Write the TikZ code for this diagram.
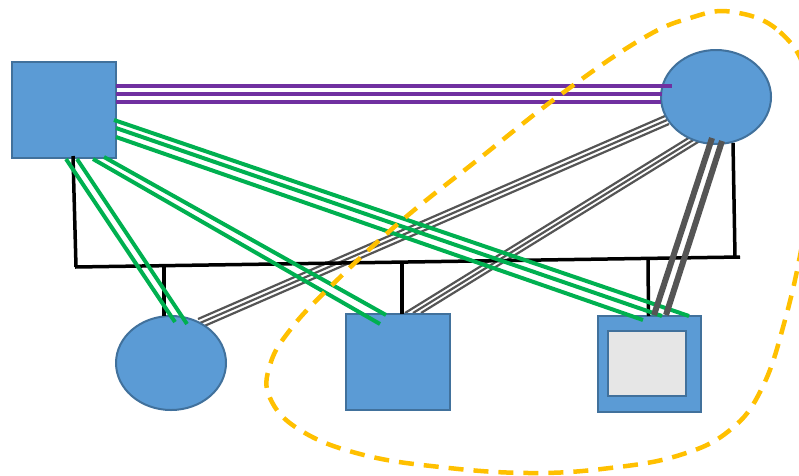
\documentclass[tikz,border=0pt]{standalone}
\usetikzlibrary{shapes.geometric,calc}
\definecolor{bluefill}{HTML}{5B9BD5}
\definecolor{blueline}{HTML}{41719C}
\definecolor{linkpurple}{HTML}{7030A0}
\definecolor{linkgreen}{HTML}{00B050}
\definecolor{linkgray}{HTML}{555555}
\definecolor{zoneyellow}{HTML}{FFC000}
\definecolor{innergray}{HTML}{E6E6E6}
\pgfdeclarelayer{bg}
\pgfsetlayers{bg,main}
\tikzset{
  sqbox/.style={rectangle, fill=bluefill, draw=blueline, line width=2pt, inner sep=0pt},
  ovbox/.style={ellipse, fill=bluefill, draw=blueline, line width=2pt, inner sep=0pt, minimum width=110pt, minimum height=94pt},
  purplelink/.style={draw=linkpurple, line width=4pt},
  greenlink/.style={draw=linkgreen, line width=4pt},
  thingray/.style={draw=linkgray, line width=2.2pt},
  thickgray/.style={draw=linkgray, line width=6pt},
  busline/.style={draw=black, line width=3.5pt},
  zone/.style={draw=zoneyellow, line width=4.5pt, dash pattern=on 15pt off 10pt}
}
\begin{document}
\begin{tikzpicture}[x=1pt,y=-1pt]
\useasboundingbox (0,0) rectangle (799,475);
% nodes
\node[sqbox, minimum width=104pt, minimum height=96pt] (A) at (64,110) {};
\node[ovbox] (B) at (716,97) {};
\node[ovbox] (C) at (171,363) {};
\node[sqbox, minimum width=104pt, minimum height=96pt] (D) at (398,362) {};
\node[sqbox, minimum width=103pt, minimum height=96pt] (E) at (649.5,364) {};
\node[rectangle, fill=innergray, draw=blueline, line width=2pt, inner sep=0pt, minimum width=78pt, minimum height=65pt] (Ein) at (647,363.5) {};
% bus coordinates
\coordinate (bl) at (75,267);
\coordinate (br) at (740,257);
\coordinate (jA) at (76,267);
\coordinate (jB) at (735,257.1);
\coordinate (jC) at (164,266.5);
\coordinate (jD) at (402,263);
\coordinate (jE) at (648,259);
% thin gray links (under the shapes)
\begin{pgfonlayer}{bg}
\draw[thingray] ($(B)+(-51,19)$) -- ($(C)+(27,-44)$);
\draw[thingray] ($(B)+(-49,23)$) -- ($(C)+(29,-40)$);
\draw[thingray] ($(B)+(-47,27)$) -- ($(C)+(31,-36)$);
\draw[thingray] ($(B)+(-27.5,41)$) -- ($(D)+(7,-49)$);
\draw[thingray] ($(B)+(-19.5,41)$) -- ($(D)+(15,-49)$);
\draw[thingray] ($(B)+(-11.5,41)$) -- ($(D)+(23,-49)$);
\end{pgfonlayer}
% black bus
\draw[busline] (bl) -- (br);
\draw[busline] ($(A)+(9,46)$) -- (jA);
\draw[busline] ($(B)+(17,46)$) -- (jB);
\draw[busline] ($(C)+(-7,-47)$) -- (jC);
\draw[busline] ($(D)+(4,-48)$) -- (jD);
\draw[busline] ($(E)+(-1,-48)$) -- (jE);
% green links
\draw[greenlink] ($(A)+(50,10)$) -- ($(E)+(39.5,-48)$);
\draw[greenlink] ($(A)+(52,18)$) -- ($(E)+(12.5,-48)$);
\draw[greenlink] ($(A)+(52,27)$) -- ($(E)+(-6.5,-44)$);
\draw[greenlink] ($(A)+(2,49)$) -- ($(C)+(4,-41)$);
\draw[greenlink] ($(A)+(13,49)$) -- ($(C)+(16,-39)$);
\draw[greenlink] ($(A)+(29,49)$) -- ($(D)+(-18,-38)$);
\draw[greenlink] ($(A)+(40,47)$) -- ($(D)+(-12,-47)$);
% purple links
\draw[purplelink] ($(A)+(52,-24)$) -- ($(B)+(-44,-11)$);
\draw[purplelink] ($(A)+(52,-16)$) -- ($(B)+(-54,-3)$);
\draw[purplelink] ($(A)+(52,-8)$) -- ($(B)+(-55,5)$);
% thick gray links
\draw[thickgray] ($(B)+(-4,41)$) -- ($(E)+(4.5,-49)$);
\draw[thickgray] ($(B)+(6,44)$) -- ($(E)+(16.5,-49)$);
% yellow dashed zone
\draw[zone] plot[smooth cycle, tension=0.7] coordinates {
 (733,12) (780,32) (808,80) (815,160) (803,240) (785,320) (762,388)
 (730,430) (680,455) (610,468) (530,473) (440,467) (360,454) (300,430)
 (270,398) (270,365) (290,330) (330,287) (400,222) (480,158) (560,95)
 (640,40) (690,18)};
\end{tikzpicture}
\end{document}
